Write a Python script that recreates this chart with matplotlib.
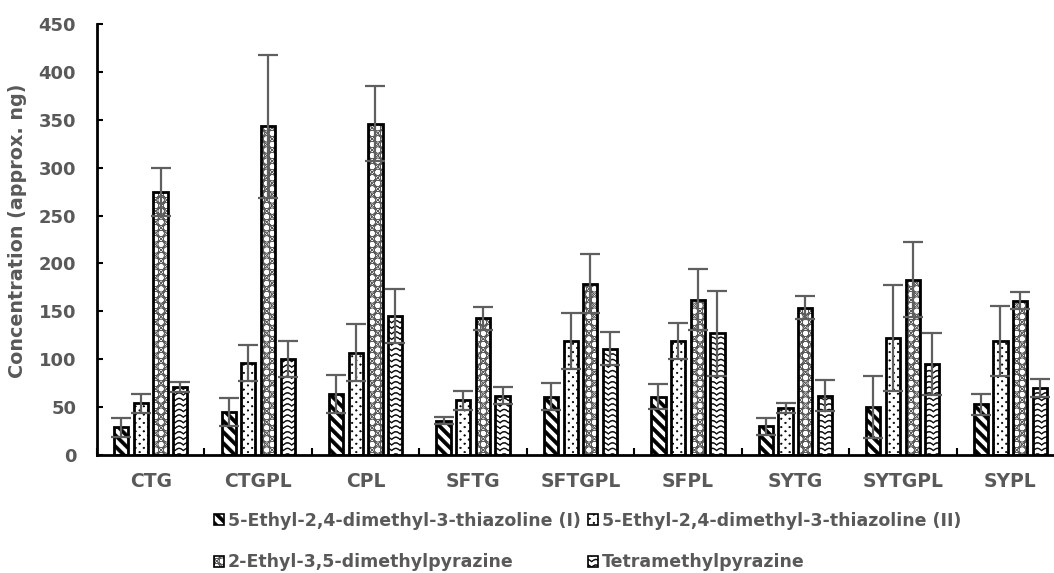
import warnings
import numpy as np
import matplotlib
matplotlib.use("Agg")
import matplotlib.pyplot as plt
import matplotlib.hatch as mhatch
from matplotlib.colors import to_rgba
from matplotlib.path import Path

warnings.filterwarnings("ignore", message=".*hatch must consist.*")
warnings.filterwarnings("ignore", category=matplotlib.MatplotlibDeprecationWarning)

# ---------------------------------------------------------------- data
categories = ["CTG", "CTGPL", "CPL", "SFTG", "SFTGPL", "SFPL", "SYTG", "SYTGPL", "SYPL"]

series_names = [
    "5-Ethyl-2,4-dimethyl-3-thiazoline (I)",
    "5-Ethyl-2,4-dimethyl-3-thiazoline (II)",
    "2-Ethyl-3,5-dimethylpyrazine",
    "Tetramethylpyrazine",
]

thiazoline_I = [29, 45, 64, 36, 61, 61, 30, 50, 53]
thiazoline_I_err = [10, 15, 20, 4, 14, 13, 9, 32, 11]

thiazoline_II = [54, 96, 107, 57, 119, 119, 49, 122, 119]
thiazoline_II_err = [10, 19, 30, 10, 29, 19, 5, 55, 37]

ethyl_dimethylpyrazine = [275, 343, 346, 143, 179, 162, 154, 183, 161]
ethyl_dimethylpyrazine_err = [25, 75, 39, 12, 31, 32, 12, 39, 9]

tetramethylpyrazine = [71, 100, 145, 62, 111, 127, 62, 95, 70]
tetramethylpyrazine_err = [5, 19, 28, 9, 17, 44, 16, 32, 9]

y_ticks = [0, 50, 100, 150, 200, 250, 300, 350, 400, 450]


# ---------------------------------------------------------------- custom fill patterns
class _PolyHatch(mhatch.HatchPatternBase):
    """Hatch made from a list of closed outlines inside the unit tile."""
    key = "?"

    def __init__(self, hatch, density):
        n = hatch.count(self.key) if hatch else 0
        self.polys = self.build() if n else []
        self.num_vertices = int(sum(len(p) for p in self.polys))

    def build(self):
        return []

    def set_vertices_and_codes(self, vertices, codes):
        i = 0
        for p in self.polys:
            k = len(p)
            vertices[i:i + k] = p
            codes[i] = Path.MOVETO
            codes[i + 1:i + k] = Path.LINETO
            i += k


def _circle(cx, cy, r, n=20, reverse=False):
    t = np.linspace(0, 2 * np.pi, n + 1)
    if reverse:
        t = t[::-1]
    return np.c_[cx + r * np.cos(t), cy + r * np.sin(t)]


def _band(p0, p1, thick):
    """Thin parallelogram along the segment p0-p1 (vertical thickness)."""
    (x0, y0), (x1, y1) = p0, p1
    return np.array([[x0, y0], [x1, y1], [x1, y1 + thick], [x0, y0 + thick], [x0, y0]])


class StripeHatch(_PolyHatch):
    """Bold back-slanted stripes."""
    key = "S"

    def build(self):
        n, t = 9, 0.046
        return [_band((-0.5, k / n + 0.5), (1.5, k / n - 1.5), t)
                for k in range(-2, 2 * n + 3)]


class DotHatch(_PolyHatch):
    """Sparse staggered dots."""
    key = "D"

    def build(self):
        n = 12
        polys = []
        for j in range(2 * n):
            y = (j + 0.5) / (2 * n)
            shift = 0.5 if j % 2 else 0.0
            for i in range(n):
                x = (i + shift + 0.25) / n
                polys.append(_circle(x, y, 0.008, 8))
        return polys


class ChainHatch(_PolyHatch):
    """Diagonal lattice with a ring inside every diamond."""
    key = "C"

    def build(self):
        n = 9
        polys = []
        for k in range(-n - 1, n + 2):
            c = k / n
            polys.append(_band((0.0, c), (1.0, 1.0 + c), 0.0005))
            polys.append(_band((0.0, 1.0 - c), (1.0, -c), 0.0005))
        r = 0.032
        for i in range(-1, 2 * n + 2):
            for j in range(-1, 2 * n + 2):
                if (i + j) % 2:
                    cx, cy = i / (2 * n), j / (2 * n)
                    polys.append(_circle(cx, cy, r, 24))
                    polys.append(_circle(cx, cy, r - 0.0005, 24, reverse=True))
        return polys


class WaveHatch(_PolyHatch):
    """Rows of small arches."""
    key = "W"

    def build(self):
        rows, arches, amp, thick = 18, 12, 0.022, 0.009
        xs = np.linspace(0, 1, arches * 10 + 1)
        frac = (xs * arches) % 1.0
        polys = []
        for j in range(rows + 1):
            y = j / rows + amp * np.sin(np.pi * frac) - 0.01
            upper = np.c_[xs, y + thick]
            lower = np.c_[xs, y]
            polys.append(np.vstack([lower, upper[::-1], lower[:1]]))
        return polys


for _cls in (StripeHatch, DotHatch, ChainHatch, WaveHatch):
    mhatch._hatch_types.append(_cls)

hatches = ["S", "D", "C", "W"]
hatch_colors = ["black", "black", "#5a5a5a", "black"]


def _set_hatch_color(patch, color):
    setter = getattr(patch, "set_hatchcolor", None)
    if setter is not None:
        setter(color)
    else:
        patch._hatch_color = to_rgba(color)


# ---------------------------------------------------------------- style
text_color = "#595959"
plt.rcParams["font.family"] = ["DejaVu Sans"]
plt.rcParams["font.weight"] = "bold"
plt.rcParams["hatch.linewidth"] = 0.4
plt.rcParams["hatch.color"] = "black"

fig = plt.figure(figsize=(10.54, 5.73), dpi=100)
ax = fig.add_axes([97 / 1054, 118 / 573, 967 / 1054, 431 / 573])

values = [thiazoline_I, thiazoline_II, ethyl_dimethylpyrazine, tetramethylpyrazine]
errors = [thiazoline_I_err, thiazoline_II_err, ethyl_dimethylpyrazine_err, tetramethylpyrazine_err]

x = np.arange(len(categories))
pitch = 0.183
width = 0.132
handles = []
for i, (vals, errs) in enumerate(zip(values, errors)):
    pos = x + (i - 1.5) * pitch
    bars = ax.bar(pos, vals, width, color="white", edgecolor="black",
                  linewidth=2.0, hatch=hatches[i], zorder=2,
                  label=series_names[i])
    for p in bars:
        _set_hatch_color(p, hatch_colors[i])
    ax.errorbar(pos, vals, yerr=errs, fmt="none", ecolor="#5f5f5f",
                elinewidth=1.6, capsize=7, capthick=1.6, zorder=3)
    handles.append(bars)

# ---------------------------------------------------------------- axes
ax.set_xlim(-0.5, len(categories) - 0.5)
ax.set_ylim(0, 450)
ax.set_yticks(y_ticks)
ax.set_xticks(x)
ax.set_xticklabels(categories)
ax.set_xticks(np.arange(-0.5, len(categories), 1.0), minor=True)

for side in ("top", "right"):
    ax.spines[side].set_visible(False)
for side in ("left", "bottom"):
    ax.spines[side].set_linewidth(2.0)
    ax.spines[side].set_color("black")

ax.tick_params(axis="y", direction="in", length=4, width=1.5, pad=15,
               labelsize=13, labelcolor=text_color, color="black")
ax.tick_params(axis="x", which="major", length=0, pad=12,
               labelsize=13.5, labelcolor=text_color)
ax.tick_params(axis="x", which="minor", direction="in", length=5, width=1.5,
               color="black")
for lab in ax.get_xticklabels() + ax.get_yticklabels():
    lab.set_fontweight("bold")

ax.set_ylabel("Concentration (approx. ng)", fontsize=13.8, fontweight="bold",
              color=text_color, va="center")
ax.yaxis.set_label_coords(-(97 - 18) / 967, 0.52)

# ---------------------------------------------------------------- legend
order = [0, 2, 1, 3]
leg = fig.legend([handles[k] for k in order], [series_names[k] for k in order],
                 ncol=2, loc="upper left", bbox_to_anchor=(214 / 1054, 1 - 512 / 573),
                 frameon=False, labelcolor=text_color,
                 handlelength=0.6, handleheight=0.6, handletextpad=0.2,
                 columnspacing=0.4, labelspacing=1.35, borderpad=0.0,
                 borderaxespad=0.0, prop={"weight": "bold", "size": 12.5})
for h, k in zip(leg.legend_handles, order):
    h.set_linewidth(1.2)
    _set_hatch_color(h, hatch_colors[k])

fig.savefig("out.png", dpi=100)
